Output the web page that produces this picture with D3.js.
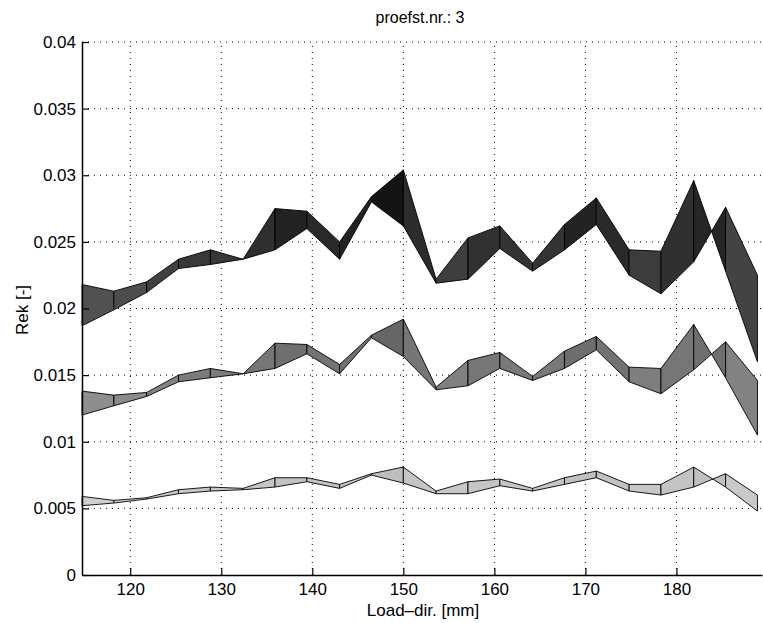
<!DOCTYPE html>
<html>
  <head>
    <script src="https://d3js.org/d3.v7.min.js"></script>
    <style type="text/css">
  body { margin: 0; background: #fff; }
  text { font-family: "Liberation Sans", Arial, sans-serif; fill: #000; }
  .grid line { stroke: #000; stroke-width: 1; stroke-dasharray: 1,5; }
    </style>
  </head>
  <body>
  <div id="container"></div>
  <script type="text/javascript">

  // load direction positions [mm]
  var loadDir = [114.7, 118.2, 121.8, 125.3, 128.8, 132.4, 135.9, 139.4, 143.0, 146.5, 150.0,
                 153.6, 157.1, 160.6, 164.2, 167.7, 171.2, 174.8, 178.3, 181.9, 185.4, 188.9];

  // each band is a strip between two rows of the surface
  var highA = [0.0218, 0.0213, 0.0220, 0.0237, 0.0244, 0.0237, 0.0275, 0.0273, 0.0250, 0.0284, 0.0304,
               0.0222, 0.0253, 0.0262, 0.0234, 0.0263, 0.0283, 0.0244, 0.0243, 0.0296, 0.0228, 0.0160];
  var highB = [0.0187, 0.0199, 0.0212, 0.0230, 0.0233, 0.0237, 0.0244, 0.0260, 0.0237, 0.0280, 0.0262,
               0.0219, 0.0222, 0.0245, 0.0228, 0.0244, 0.0263, 0.0225, 0.0211, 0.0235, 0.0276, 0.0225];

  var midA = [0.0138, 0.0135, 0.0137, 0.0150, 0.0155, 0.0151, 0.0174, 0.0173, 0.0158, 0.0180, 0.0192,
              0.0141, 0.0161, 0.0167, 0.0149, 0.0168, 0.0179, 0.0156, 0.0155, 0.0188, 0.0148, 0.0105];
  var midB = [0.0120, 0.0127, 0.0134, 0.0145, 0.0148, 0.0151, 0.0155, 0.0166, 0.0151, 0.0178, 0.0164,
              0.0139, 0.0142, 0.0155, 0.0146, 0.0155, 0.0169, 0.0145, 0.0136, 0.0154, 0.0175, 0.0146];

  var lowA = [0.0059, 0.0056, 0.0058, 0.0064, 0.0066, 0.0065, 0.0073, 0.0073, 0.0068, 0.0076, 0.0081,
              0.0063, 0.0070, 0.0072, 0.0065, 0.0073, 0.0078, 0.0068, 0.0068, 0.0081, 0.0066, 0.0048];
  var lowB = [0.0052, 0.0054, 0.0057, 0.0061, 0.0063, 0.0064, 0.0066, 0.0070, 0.0065, 0.0075, 0.0069,
              0.0061, 0.0061, 0.0067, 0.0063, 0.0068, 0.0073, 0.0063, 0.0060, 0.0066, 0.0076, 0.0060];

  var xTicks = [120, 130, 140, 150, 160, 170, 180];
  var yTicks = [0, 0.005, 0.01, 0.015, 0.02, 0.025, 0.03, 0.035, 0.04];

  var width = 763, height = 623;
  var padL = 82, padR = 762, padT = 42, padB = 575;

  var svg = d3.select("#container").append("svg")
    .attr("width", width)
    .attr("height", height);

  var x = d3.scaleLinear().domain([114.7, 189.4]).range([padL, padR]);
  var y = d3.scaleLinear().domain([0, 0.04]).range([padB, padT]);
  // gray colormap, darker for higher strain
  var shade = d3.scaleLinear().domain([0.005, 0.015, 0.03])
    .range(["#d4d4d4", "#7c7c7c", "#060606"]).clamp(true);

  // dotted grid
  var grid = svg.append("g").attr("class", "grid");
  grid.selectAll(".gx").data(xTicks).enter().append("line")
    .attr("x1", function(d) { return x(d); }).attr("x2", function(d) { return x(d); })
    .attr("y1", padB).attr("y2", padT);
  grid.selectAll(".gy").data(yTicks.slice(1)).enter().append("line")
    .attr("x1", padL).attr("x2", padR)
    .attr("y1", function(d) { return y(d); }).attr("y2", function(d) { return y(d); });

  // surface strips
  var bands = [[lowA, lowB], [midA, midB], [highA, highB]];
  bands.forEach(function(b) {
    var a = b[0], c = b[1];
    var cells = d3.range(loadDir.length - 1);
    svg.append("g").selectAll("path")
      .data(cells)
      .enter().append("path")
        .attr("d", function(i) {
          return "M" + x(loadDir[i]) + "," + y(a[i]) +
                 "L" + x(loadDir[i + 1]) + "," + y(a[i + 1]) +
                 "L" + x(loadDir[i + 1]) + "," + y(c[i + 1]) +
                 "L" + x(loadDir[i]) + "," + y(c[i]) + "Z";
        })
        .attr("fill", function(i) { return shade((a[i] + a[i + 1] + c[i] + c[i + 1]) / 4); })
        .attr("stroke", "#000")
        .attr("stroke-width", 0.9)
        .attr("stroke-linejoin", "round");
  });

  // axes
  var xAxis = d3.axisBottom(x).tickValues(xTicks).tickSizeInner(-7).tickSizeOuter(0).tickPadding(8);
  var yAxis = d3.axisLeft(y).tickValues(yTicks).tickSizeInner(-7).tickSizeOuter(0).tickPadding(6)
    .tickFormat(function(d) { return d === 0 ? "0" : String(+d.toFixed(3)); });

  var gx = svg.append("g").attr("transform", "translate(0," + padB + ")").call(xAxis);
  var gy = svg.append("g").attr("transform", "translate(" + padL + ",0)").call(yAxis);
  [gx, gy].forEach(function(g) {
    g.select(".domain").attr("stroke", "#000").attr("stroke-width", 1.5);
    g.selectAll(".tick line").attr("stroke", "#000").attr("stroke-width", 1.2);
    g.selectAll(".tick text").attr("font-size", 17).attr("font-family", null);
  });

  svg.append("text")
    .attr("x", 420).attr("y", 23)
    .attr("text-anchor", "middle")
    .attr("font-size", 16)
    .text("proefst.nr.: 3");

  svg.append("text")
    .attr("x", 423).attr("y", 616)
    .attr("text-anchor", "middle")
    .attr("font-size", 17)
    .text("Load\u2013dir. [mm]");

  svg.append("text")
    .attr("transform", "translate(28,310) rotate(-90)")
    .attr("text-anchor", "middle")
    .attr("font-size", 17)
    .text("Rek [-]");

  </script>
  </body>
</html>
